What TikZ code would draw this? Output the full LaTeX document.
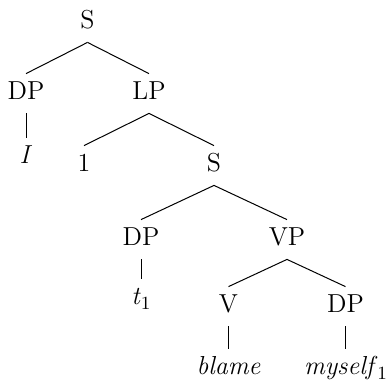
\documentclass[tikz,border=0pt]{standalone}
\usepackage{tikz}
\newcommand{\idx}[1]{\raisebox{-2.5pt}{\fontsize{9.3}{11}\selectfont #1}}

\begin{document}
\begin{tikzpicture}[
    font=\fontsize{13}{15}\selectfont,
    every node/.style={inner xsep=0pt, inner ysep=3.5pt, text height=9pt, text depth=3.5pt},
    edge from parent/.style={draw, line width=0.5pt},
    edge from parent path={(\tikzparentnode.south) -- (\tikzchildnode.north)},
    level 1/.style={level distance=35.5pt, sibling distance=61.5pt},
    level 2/.style={level distance=36pt, sibling distance=65pt},
    level 3/.style={level distance=37pt, sibling distance=73pt},
    level 4/.style={level distance=33.5pt, sibling distance=58.5pt},
    level 5/.style={level distance=31pt},
    leaf/.style={yshift=4pt}
]
\useasboundingbox (0,0) rectangle (195.5pt,-191pt);
\node (s) at (43.75pt,-11.25pt) {S}
    child { node (dp) {DP}
        child { node[leaf] (i) {\textit{I}} }
    }
    child { node (lp) {LP}
        child { node (one) {1} }
        child { node (s2) {S}
            child { node (dp2) {DP}
                child { node[leaf] (t) {\textit{t}\idx{1}} }
            }
            child { node (vp) {VP}
                child { node (v) {V}
                    child { node (blame) {\textit{blame}} }
                }
                child { node (dp3) {DP}
                    child { node (myself) {\textit{myself}\idx{1}} }
                }
            }
        }
    };
\end{tikzpicture}
\end{document}
